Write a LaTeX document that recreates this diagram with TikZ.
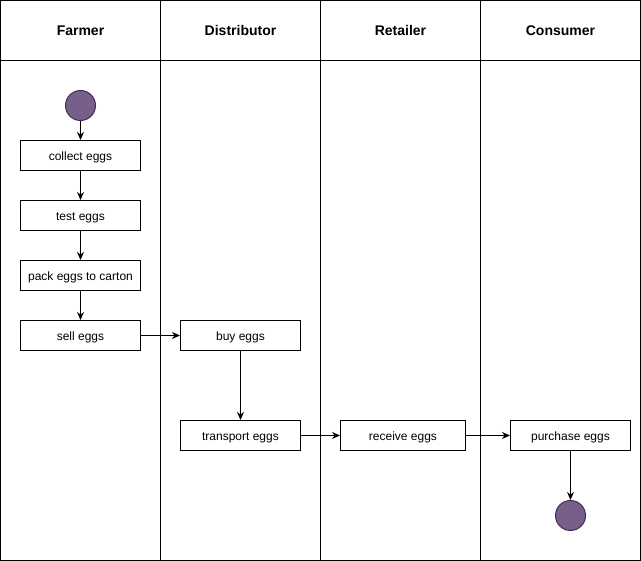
\documentclass[tikz,border=0pt]{standalone}
\usepackage{fontspec}
\setmainfont{Liberation Sans}
\usetikzlibrary{arrows.meta}
\definecolor{nodefill}{HTML}{76608A}
\definecolor{nodeline}{HTML}{432D57}
\begin{document}
\begin{tikzpicture}[x=1pt,y=-1pt,
  lane/.style={draw=black,line width=1pt},
  head/.style={font=\fontsize{14}{16}\selectfont\bfseries,text height=10pt,text depth=0pt,inner sep=0pt},
  act/.style={draw=black,fill=white,line width=1pt,minimum width=120pt,minimum height=30pt,inner sep=0pt,text height=10pt,text depth=0pt,font=\fontsize{12}{14}\selectfont},
  dot/.style={circle,draw=nodeline,fill=nodefill,line width=1pt,minimum size=30pt,inner sep=0pt},
  flow/.style={draw=black,line width=1pt,-{Stealth[length=8pt,width=7pt]}}]
\useasboundingbox (0,0) rectangle (641,561);
% lanes
\draw[lane] (0.5,0.5) rectangle (640.5,560.5);
\draw[lane] (0.5,60.5) -- (640.5,60.5);
\draw[lane] (160.5,0.5) -- (160.5,560.5);
\draw[lane] (320.5,0.5) -- (320.5,560.5);
\draw[lane] (480.5,0.5) -- (480.5,560.5);
\node[head] (h1) at (80.5,30.5) {Farmer};
\node[head] (h2) at (240.5,30.5) {Distributor};
\node[head] (h3) at (400.5,30.5) {Retailer};
\node[head] (h4) at (560.5,30.5) {Consumer};
% nodes
\node[dot] (start) at (80.5,105.5) {};
\node[act] (collect) at (80.5,155.5) {collect eggs};
\node[act] (test) at (80.5,215.5) {test eggs};
\node[act] (pack) at (80.5,275.5) {pack eggs to carton};
\node[act] (sell) at (80.5,335.5) {sell eggs};
\node[act] (buy) at (240.5,335.5) {buy eggs};
\node[act] (transport) at (240.5,435.5) {transport eggs};
\node[act,minimum width=125pt] (receive) at (403,435.5) {receive eggs};
\node[act] (purchase) at (570.5,435.5) {purchase eggs};
\node[dot] (end) at (570.5,515.5) {};
% flows
\draw[flow] (start) -- (collect);
\draw[flow] (collect) -- (test);
\draw[flow] (test) -- (pack);
\draw[flow] (pack) -- (sell);
\draw[flow] (sell) -- (buy);
\draw[flow] (buy) -- (transport);
\draw[flow] (transport) -- (receive);
\draw[flow] (receive) -- (purchase);
\draw[flow] (purchase) -- (end);
\end{tikzpicture}
\end{document}
